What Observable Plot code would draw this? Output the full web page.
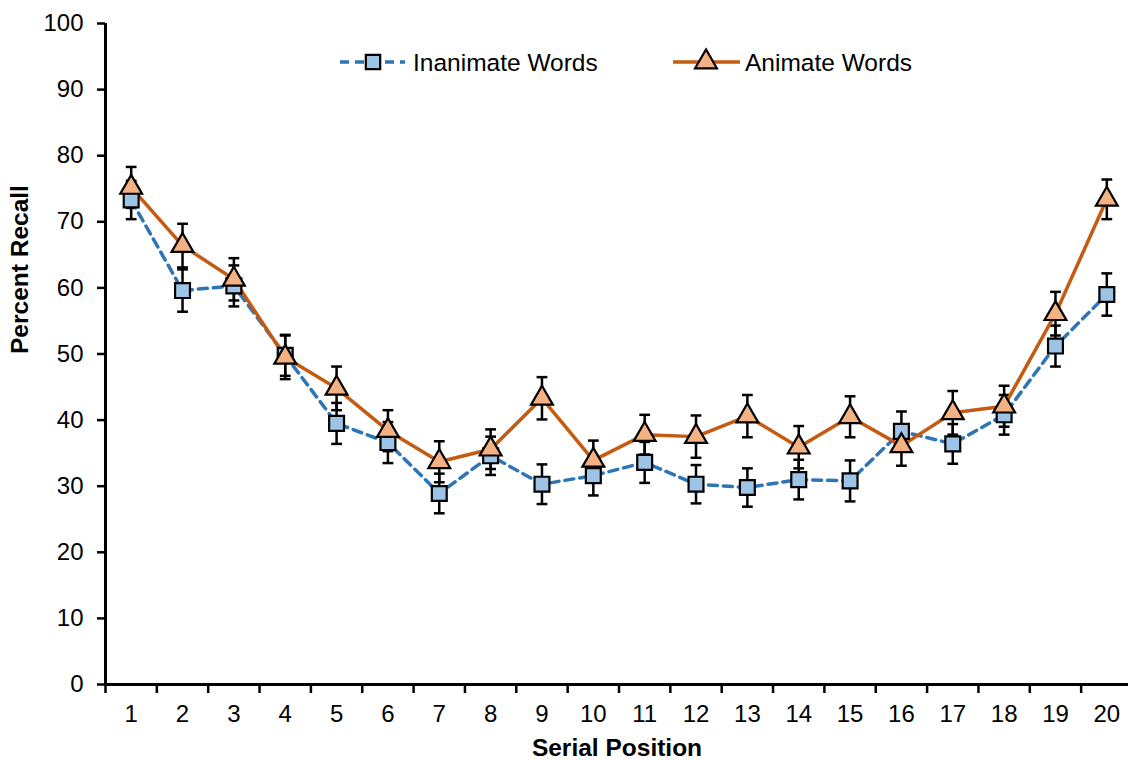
<!DOCTYPE html>
<html>
<head>
<meta charset="utf-8">
<script src="https://cdn.jsdelivr.net/npm/d3@7"></script>
<script src="https://cdn.jsdelivr.net/npm/@observablehq/plot@0.6"></script>
<style>
  body { margin: 0; background: white; }
  #wrap { position: relative; width: 1128px; height: 760px; font-family: "Liberation Sans", Arial, sans-serif; }
  #legend { position: absolute; left: 0; top: 0; }
</style>
</head>
<body>
<div id="wrap"></div>
<script>
// ---- data ----
const positions = [1,2,3,4,5,6,7,8,9,10,11,12,13,14,15,16,17,18,19,20];
const seriesNames = ["Inanimate Words", "Animate Words"];
const inanimate = [73.3, 59.6, 60.3, 49.8, 39.5, 36.6, 28.9, 34.6, 30.3, 31.6, 33.6, 30.3, 29.8, 31.0, 30.8, 38.3, 36.4, 40.8, 51.2, 59.0];
const inanimateErr = [2.9, 3.2, 3.1, 3.1, 3.1, 3.1, 3.0, 2.9, 3.0, 3.0, 3.1, 2.9, 2.9, 3.0, 3.1, 3.0, 3.0, 3.0, 3.1, 3.2];
const animate = [75.2, 66.4, 61.3, 49.5, 44.8, 38.4, 33.7, 35.6, 43.3, 33.9, 37.8, 37.5, 40.6, 35.9, 40.5, 36.1, 41.1, 42.1, 56.1, 73.4];
const animateErr = [3.1, 3.3, 3.2, 3.3, 3.3, 3.1, 3.1, 3.0, 3.2, 3.0, 3.0, 3.2, 3.2, 3.2, 3.1, 3.0, 3.3, 3.1, 3.3, 3.0];
const yTicks = [0,10,20,30,40,50,60,70,80,90,100];
const xBoundaries = [0.5,1.5,2.5,3.5,4.5,5.5,6.5,7.5,8.5,9.5,10.5,11.5,12.5,13.5,14.5,15.5,16.5,17.5,18.5,19.5,20.5];

const lineColors = ["#2E75B6", "#C55A11"];
const fillColors = ["#9DC3E6", "#F4B183"];

const rows = [];
positions.forEach((p, i) => {
  rows.push({series: seriesNames[0], pos: p, v: inanimate[i], e: inanimateErr[i]});
  rows.push({series: seriesNames[1], pos: p, v: animate[i], e: animateErr[i]});
});
const ina = rows.filter(d => d.series === seriesNames[0]);
const ani = rows.filter(d => d.series === seriesNames[1]);
const cap = 0.105;

function errMarks(data) {
  return [
    Plot.link(data, {x1: "pos", x2: "pos", y1: d => d.v - d.e, y2: d => d.v + d.e, stroke: "black", strokeWidth: 2.5}),
    Plot.link(data, {x1: d => d.pos - cap, x2: d => d.pos + cap, y1: d => d.v + d.e, y2: d => d.v + d.e, stroke: "black", strokeWidth: 2.5}),
    Plot.link(data, {x1: d => d.pos - cap, x2: d => d.pos + cap, y1: d => d.v - d.e, y2: d => d.v - d.e, stroke: "black", strokeWidth: 2.5})
  ];
}

const chart = Plot.plot({
  width: 1128,
  height: 760,
  marginLeft: 105,
  marginRight: 0,
  marginTop: 23,
  marginBottom: 76,
  x: {domain: [0.5, 20.5], range: [105, 1132]},
  y: {domain: [0, 100]},
  style: {fontFamily: "'Liberation Sans', Arial, sans-serif", fontSize: "24px", color: "black", background: "white"},
  marks: [
    Plot.axisY({ticks: yTicks, tickSize: 8, tickPadding: 14, label: null, strokeWidth: 2.5, fontSize: 24}),
    Plot.axisX({ticks: xBoundaries, tickSize: 9, tickFormat: () => "", label: null, strokeWidth: 2.5}),
    Plot.axisX({ticks: positions, tickSize: 0, tickPadding: 20, label: null, fontSize: 24}),
    Plot.ruleX([0.5], {stroke: "black", strokeWidth: 3}),
    Plot.ruleY([0], {stroke: "black", strokeWidth: 3}),
    Plot.text(["Percent Recall"], {frameAnchor: "left", rotate: -90, dx: -85, fontWeight: "bold", fontSize: 24.5}),
    Plot.text(["Serial Position"], {frameAnchor: "bottom", dy: 71, fontWeight: "bold", fontSize: 24.5}),
    ...errMarks(ina),
    ...errMarks(ani),
    Plot.line(ina, {x: "pos", y: "v", stroke: lineColors[0], strokeWidth: 3.5, strokeDasharray: "9,6"}),
    Plot.line(ani, {x: "pos", y: "v", stroke: lineColors[1], strokeWidth: 3.5}),
    Plot.dot(ina, {x: "pos", y: "v", symbol: "square", r: 8.4, fill: fillColors[0], stroke: "black", strokeWidth: 2.2}),
    Plot.dot(ani, {x: "pos", y: "v", symbol: "triangle", r: 8.1, fill: fillColors[1], stroke: "black", strokeWidth: 2.2})
  ]
});
const wrap = document.getElementById("wrap");
wrap.appendChild(chart);

// ---- legend overlay ----
const ns = "http://www.w3.org/2000/svg";
const leg = document.createElementNS(ns, "svg");
leg.setAttribute("id", "legend");
leg.setAttribute("width", 1128);
leg.setAttribute("height", 100);
const items = [
  {name: seriesNames[0], x0: 340, x1: 405, cx: 373, tx: 413, dash: "9,6", sym: "square"},
  {name: seriesNames[1], x0: 673, x1: 740, cx: 706, tx: 745, dash: null, sym: "triangle"}
];
const ly = 62;
items.forEach((it, i) => {
  const ln = document.createElementNS(ns, "line");
  ln.setAttribute("x1", it.x0); ln.setAttribute("x2", it.x1);
  ln.setAttribute("y1", ly); ln.setAttribute("y2", ly);
  ln.setAttribute("stroke", lineColors[i]); ln.setAttribute("stroke-width", 3.5);
  if (it.dash) ln.setAttribute("stroke-dasharray", it.dash);
  leg.appendChild(ln);
  const p = document.createElementNS(ns, "path");
  const sym = it.sym === "square" ? d3.symbolSquare : d3.symbolTriangle;
  p.setAttribute("d", d3.symbol(sym, Math.PI * 8.1 * 8.1)());
  p.setAttribute("transform", `translate(${it.cx},${ly})`);
  p.setAttribute("fill", fillColors[i]); p.setAttribute("stroke", "black"); p.setAttribute("stroke-width", 2.2);
  leg.appendChild(p);
  const t = document.createElementNS(ns, "text");
  t.setAttribute("x", it.tx); t.setAttribute("y", ly);
  t.setAttribute("dy", "0.35em");
  t.setAttribute("font-size", 24.5);
  t.setAttribute("font-family", "'Liberation Sans', Arial, sans-serif");
  t.textContent = it.name;
  leg.appendChild(t);
});
wrap.appendChild(leg);
</script>
</body>
</html>
